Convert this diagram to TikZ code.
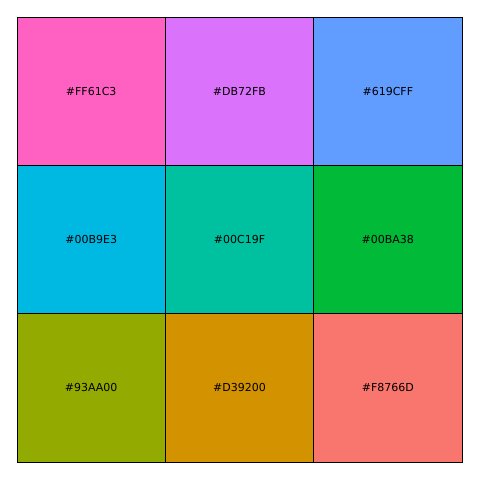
\documentclass[tikz,border=0pt]{standalone}
\usepackage{fontspec}
\setmainfont{DejaVu Sans}
\definecolor{cA}{HTML}{FF61C3}
\definecolor{cB}{HTML}{DB72FB}
\definecolor{cC}{HTML}{619CFF}
\definecolor{cD}{HTML}{00B9E3}
\definecolor{cE}{HTML}{00C19F}
\definecolor{cF}{HTML}{00BA38}
\definecolor{cG}{HTML}{93AA00}
\definecolor{cH}{HTML}{D39200}
\definecolor{cI}{HTML}{F8766D}
\tikzset{
  tile/.style={draw=black, line width=0.8pt, minimum size=148.33pt, inner sep=0pt,
    font=\fontsize{11}{13}\selectfont}
}
\begin{document}
\begin{tikzpicture}[x=1pt, y=-1pt]
        \useasboundingbox (0, 0) rectangle (480, 480);
        \foreach \c/\lab/\i/\j in {cA/FF61C3/0/0, cB/DB72FB/1/0, cC/619CFF/2/0,
                                   cD/00B9E3/0/1, cE/00C19F/1/1, cF/00BA38/2/1,
                                   cG/93AA00/0/2, cH/D39200/1/2, cI/F8766D/2/2}
            \node[tile, fill=\c] (t\i\j) at ({17+148.33*(\i+0.5)}, {17+148.33*(\j+0.5)}) {\#\lab};
    \end{tikzpicture}
\end{document}
